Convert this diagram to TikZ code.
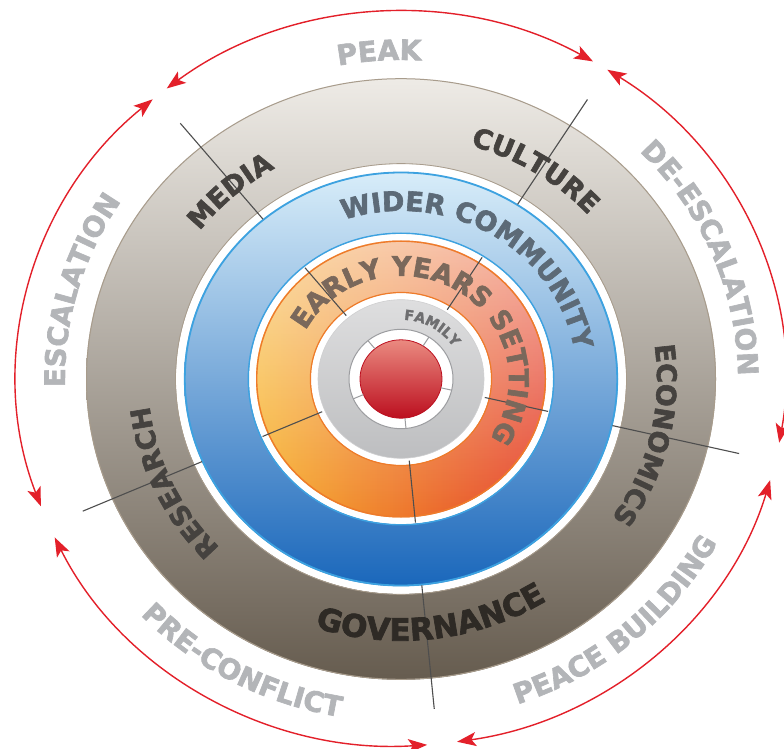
\documentclass[tikz,border=0pt]{standalone}
\usepackage{fontspec}
\setmainfont{DejaVu Sans}
\newfontfamily\labfont{DejaVu Sans}[FakeBold=2.2]
\usetikzlibrary{decorations.text,arrows.meta,fadings}

\definecolor{arrowred}{HTML}{E3202A}
\definecolor{outerlab}{HTML}{B3B5B8}
\definecolor{brownTop}{HTML}{EEEBE6}
\definecolor{brownMid}{HTML}{B0A698}
\definecolor{brownBot}{HTML}{665C4F}
\definecolor{brownLine}{HTML}{A89C8C}
\definecolor{blueTop}{HTML}{D8EDF9}
\definecolor{blueMid}{HTML}{8BBAE5}
\definecolor{blueBot}{HTML}{1A67BB}
\definecolor{blueLine}{HTML}{3DA2E0}
\definecolor{orangeL}{HTML}{F7B22C}
\definecolor{orangeR}{HTML}{E5402B}
\definecolor{orangeLine}{HTML}{EE7B2A}
\definecolor{grayTop}{HTML}{DEDEDF}
\definecolor{grayBot}{HTML}{BDBEC0}
\definecolor{grayEdge}{HTML}{CFCFD0}
\definecolor{grayLine}{HTML}{9C9DA0}
\definecolor{ballTop}{HTML}{EA8A80}
\definecolor{ballMid}{HTML}{D42631}
\definecolor{ballBot}{HTML}{BC0F1F}
\definecolor{segcol}{HTML}{4E4E4E}
\definecolor{txtdark}{HTML}{45423F}
\definecolor{txtgov}{HTML}{2E2A25}
\definecolor{txtblue}{HTML}{5C6A77}
\definecolor{txtorange}{HTML}{7A685B}
\definecolor{txtfam}{HTML}{6E6E70}

\newcommand\Kr{0.955}
% clockwise label (letter tops outward): centre angle, half span, x radius, colour, size, text
\newcommand\cwlab[6]{%
  \pgfmathsetmacro\labSA{#1+#2}\pgfmathsetmacro\labEA{#1-#2}\pgfmathsetmacro\labRY{#3*\Kr}%
  \path[decorate,decoration={text along path,text align=center,
     text={|\color{#4}\labfont\bfseries\fontsize{#5}{#5}\selectfont|#6}}]
   ([shift={(C)}]\labSA:#3 and \labRY) arc[start angle=\labSA,end angle=\labEA,x radius=#3,y radius=\labRY];}
% counter-clockwise label (letter tops inward)
\newcommand\ccwlab[6]{%
  \pgfmathsetmacro\labSA{#1-#2}\pgfmathsetmacro\labEA{#1+#2}\pgfmathsetmacro\labRY{#3*\Kr}%
  \path[decorate,decoration={text along path,text align=center,
     text={|\color{#4}\labfont\bfseries\fontsize{#5}{#5}\selectfont|#6}}]
   ([shift={(C)}]\labSA:#3 and \labRY) arc[start angle=\labSA,end angle=\labEA,x radius=#3,y radius=\labRY];}

\begin{document}
\begin{tikzpicture}[x=1pt,y=1pt,
  segline/.style={draw=segcol, line width=1.1pt},
  tickline/.style={draw=grayLine, line width=1pt},
  redarc/.style={draw=arrowred, line width=1.4pt, >={Stealth[length=19pt,width=14pt,inset=4.5pt]}, <->}]
\useasboundingbox (0,0) rectangle (784,748);
\fill[white] (0,0) rectangle (784,748);
\coordinate (C) at (401,369);

% brown ring
\shade[top color=brownTop, middle color=brownMid, bottom color=brownBot] (C) ellipse [x radius=315, y radius=300.8];
\draw[brownLine, line width=1pt] (C) ellipse [x radius=314.5, y radius=300.3];
\fill[white] (C) ellipse [x radius=225, y radius=214.9];
\draw[brownLine, line width=0.8pt] (C) ellipse [x radius=225.5, y radius=215.4];

% blue ring
\shade[top color=blueTop, middle color=blueMid, bottom color=blueBot] (C) ellipse [x radius=217, y radius=207.2];
\draw[blueLine, line width=1.8pt] (C) ellipse [x radius=216.2, y radius=206.5];
\fill[white] (C) ellipse [x radius=152, y radius=145.2];
\draw[blueLine, line width=1.4pt] (C) ellipse [x radius=152.7, y radius=145.8];

% orange ring
\shade[left color=orangeL, right color=orangeR] (C) ellipse [x radius=145, y radius=138.5];
\fill[white, fill opacity=0.6, path fading=south] (C) ellipse [x radius=145, y radius=138.5];
\draw[orangeLine, line width=1.4pt] (C) ellipse [x radius=144.3, y radius=137.8];
\fill[white] (C) ellipse [x radius=90, y radius=86];
\draw[orangeLine, line width=1.2pt] (C) ellipse [x radius=90.6, y radius=86.5];

% grey ring
\shade[top color=grayTop, bottom color=grayBot] (C) ellipse [x radius=83, y radius=79.3];
\draw[grayEdge, line width=.6pt] (C) ellipse [x radius=83, y radius=79.3];
\fill[white] (C) ellipse [x radius=52, y radius=49.7];
\draw[grayLine, line width=1pt] (C) ellipse [x radius=52, y radius=49.7];

% red ball
\shade[top color=ballTop, middle color=ballMid, bottom color=ballBot] (C) ellipse [x radius=41, y radius=39.2];
\draw[ballBot, line width=.8pt] (C) ellipse [x radius=41, y radius=39.2];

% segment lines
\foreach \a in {129.5,57.5,-13,-84.5,203.5}{
  \draw[segline] ([shift={(C)}]\a:217 and 207.2) -- ([shift={(C)}]\a:347 and 331.4);
  \draw[segline] ([shift={(C)}]\a:86 and 82.1) -- ([shift={(C)}]\a:151 and 144.2);
  \draw[tickline] ([shift={(C)}]\a:41 and 39.2) -- ([shift={(C)}]\a:52 and 49.7);
}

% red cycle arrows
\draw[redarc] ([shift={(C)}]127.6:384 and 366.7) arc[start angle=127.6,end angle=60,x radius=384,y radius=366.7];
\draw[redarc] ([shift={(C)}]57.5:384 and 366.7) arc[start angle=57.5,end angle=-10,x radius=384,y radius=366.7];
\draw[redarc] ([shift={(C)}]-16:384 and 366.7) arc[start angle=-16,end angle=-81.6,x radius=384,y radius=366.7];
\draw[redarc] ([shift={(C)}]-86.1:384 and 366.7) arc[start angle=-86.1,end angle=-154.4,x radius=384,y radius=366.7];
\draw[redarc] ([shift={(C)}]200.3:384 and 366.7) arc[start angle=200.3,end angle=130.3,x radius=384,y radius=366.7];

% outer phase labels
\cwlab{93.8}{60}{334}{outerlab}{28}{PEAK}
\cwlab{164.5}{80}{336}{outerlab}{28}{ESCALATION}
\cwlab{22}{80}{337}{outerlab}{28}{DE-ESCALATION}
\ccwlab{241}{70}{359}{outerlab}{28}{PRE-CONFLICT}
\ccwlab{-48.8}{70}{360}{outerlab}{28}{PEACE BUILDING}

% ring labels
\cwlab{132}{60}{254}{txtdark}{27}{MEDIA}
\cwlab{57.5}{60}{254}{txtdark}{27}{CULTURE}
\cwlab{-13}{60}{256}{txtdark}{27}{ECONOMICS}
\cwlab{204.7}{60}{253}{txtdark}{27}{RESEARCH}
\ccwlab{-82.8}{80}{274}{txtgov}{31}{GOVERNANCE}
\cwlab{59}{100}{176}{txtblue}{27}{WIDER COMMUNITY}
\cwlab{59.5}{150}{108}{txtorange}{27}{EARLY YEARS SETTING}
\cwlab{59}{80}{62}{txtfam}{14}{FAMILY}
\end{tikzpicture}
\end{document}
